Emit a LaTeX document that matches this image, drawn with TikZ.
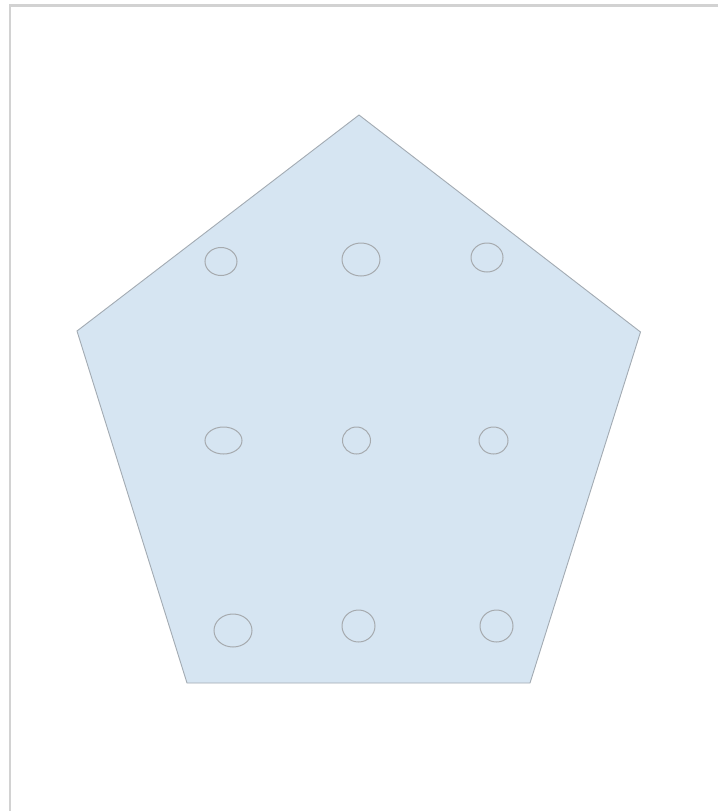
\documentclass[tikz,border=0pt]{standalone}
\usetikzlibrary{shapes.geometric}
\definecolor{pentfill}{HTML}{D6E5F2}
\definecolor{pentline}{HTML}{A3ABB3}
\definecolor{holeline}{HTML}{A6AAAE}
\definecolor{frameline}{HTML}{D2D2D2}
\tikzset{
  pent/.style={fill=pentfill, draw=pentline, line width=0.9pt, line join=miter},
  hole/.style={ellipse, draw=holeline, line width=1pt, inner sep=0pt, fill=none},
  frame/.style={draw=frameline, line width=2.2pt}
}
\begin{document}
\begin{tikzpicture}[x=1pt,y=-1pt]
\useasboundingbox (0,0) rectangle (718,811);
\fill[white] (0,0) rectangle (718,811);
% frame lines (top and left)
\coordinate (ftl) at (10,5.5);
\coordinate (ftr) at (718,5.5);
\coordinate (fbl) at (10,811);
\draw[frame] (ftr) -- (ftl) -- (fbl);
% pentagon
\coordinate (ptop) at (359,115);
\coordinate (pright) at (640.5,332);
\coordinate (pbr) at (530,683);
\coordinate (pbl) at (187,683);
\coordinate (pleft) at (77,331);
\draw[pent] (ptop) -- (pright) -- (pbr) -- (pbl) -- (pleft) -- cycle;
% holes
\node[hole, minimum width=32pt, minimum height=28pt] (h11) at (221,261.5) {};
\node[hole, minimum width=38pt, minimum height=33pt] (h12) at (361,259.5) {};
\node[hole, minimum width=32pt, minimum height=29pt] (h13) at (487,257.5) {};
\node[hole, minimum width=37pt, minimum height=27pt] (h21) at (223.5,440.5) {};
\node[hole, minimum width=28pt, minimum height=27pt] (h22) at (356.5,440.5) {};
\node[hole, minimum width=29pt, minimum height=27pt] (h23) at (493.5,440.5) {};
\node[hole, minimum width=38pt, minimum height=33pt] (h31) at (233,630.5) {};
\node[hole, minimum width=33pt, minimum height=32pt] (h32) at (358.5,626) {};
\node[hole, minimum width=33pt, minimum height=32pt] (h33) at (496.5,626) {};
\end{tikzpicture}
\end{document}
